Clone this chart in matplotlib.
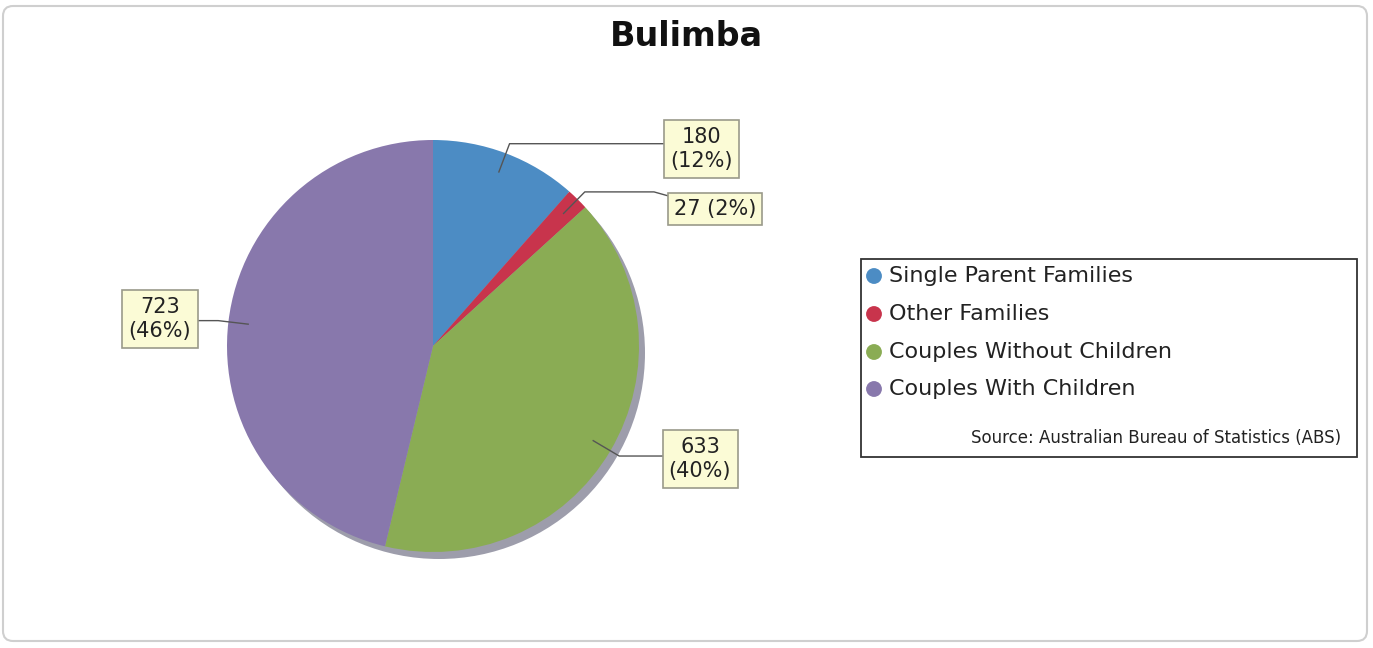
import numpy as np
import matplotlib.pyplot as plt
from matplotlib.patches import Circle, Rectangle, FancyBboxPatch

title = "Bulimba"
categories = ["Single Parent Families", "Other Families",
              "Couples Without Children", "Couples With Children"]
counts = [180, 27, 633, 723]
colors = ["#4c8cc4", "#c8344c", "#8aac54", "#8878ac"]
source = "Source: Australian Bureau of Statistics (ABS)"

W, H = 1373, 648
fig = plt.figure(figsize=(W / 100, H / 100), dpi=100)
ax = fig.add_axes([0, 0, 1, 1])

# work in image pixels (y measured from the top), flipped for matplotlib
def py(y):
    return H - y

cx, cy, R = 433, 346, 206

# rounded panel
ax.add_patch(FancyBboxPatch((3, py(641)), 1364, 635,
                            boxstyle="round,pad=0,rounding_size=10",
                            fc="white", ec="#cfcfcf", lw=1.5, zorder=0))

# shadow
ax.add_patch(Circle((cx + 6, py(cy) - 7), R, fc="#9d9dab", ec="none", zorder=1))

wedges, _ = ax.pie(counts, colors=colors, startangle=90, counterclock=False,
                   center=(cx, py(cy)), radius=R,
                   wedgeprops=dict(linewidth=0))
for w in wedges:
    w.set_zorder(2)

total = sum(counts)
# label box centres (image coords) and the box side the leader reaches
box_pos = [(701, 149, 663), (715, 209, 666), (700, 459, 662), (160, 319, 198)]

for w, n, (bx, by, edge) in zip(wedges, counts, box_pos):
    mid = np.deg2rad((w.theta1 + w.theta2) / 2)
    a = (cx + 0.9 * R * np.cos(mid), py(cy) + 0.9 * R * np.sin(mid))
    el = (cx + 1.05 * R * np.cos(mid), py(cy) + 1.05 * R * np.sin(mid))
    two_line = n >= 100
    half_h = 30 if two_line else 12
    if abs(el[1] - py(by)) < half_h:
        xs = [a[0], el[0], bx]
        ys = [a[1], el[1], el[1]]
    else:
        step = 12 if edge > cx else -12
        xs = [a[0], el[0], edge - step, bx]
        ys = [a[1], el[1], el[1], py(by)]
    ax.plot(xs, ys, color="#555555", lw=1, zorder=3, solid_capstyle="butt")
    pct = round(100 * n / total)
    txt = f"{n}\n({pct}%)" if two_line else f"{n} ({pct}%)"
    ax.text(bx, py(by), txt, ha="center", va="center", fontsize=15,
            color="#222222", linespacing=1.3, zorder=4,
            bbox=dict(boxstyle="square,pad=0.3", fc="#fbfbd6", ec="#9a9a8a", lw=1.2))

ax.text(686, py(36), title, ha="center", va="center", fontsize=24,
        fontweight="bold", color="#111111")

# legend
ax.add_patch(Rectangle((861, py(457)), 496, 198, fc="white", ec="#333333",
                       lw=1.3, zorder=3))
rows = [276, 314, 352, 389]
for c, lab, ry in zip(colors, categories, rows):
    ax.scatter([874], [py(ry)], s=130, color=c, zorder=4, edgecolors="none")
    ax.text(889, py(ry), lab, ha="left", va="center", fontsize=16,
            color="#222222", zorder=4)
ax.text(1341, py(438), source, ha="right", va="center", fontsize=12,
        color="#222222", zorder=4)

ax.set_xlim(0, W)
ax.set_ylim(0, H)
ax.set_aspect("auto")
ax.axis("off")

fig.savefig("out.png", dpi=100)
